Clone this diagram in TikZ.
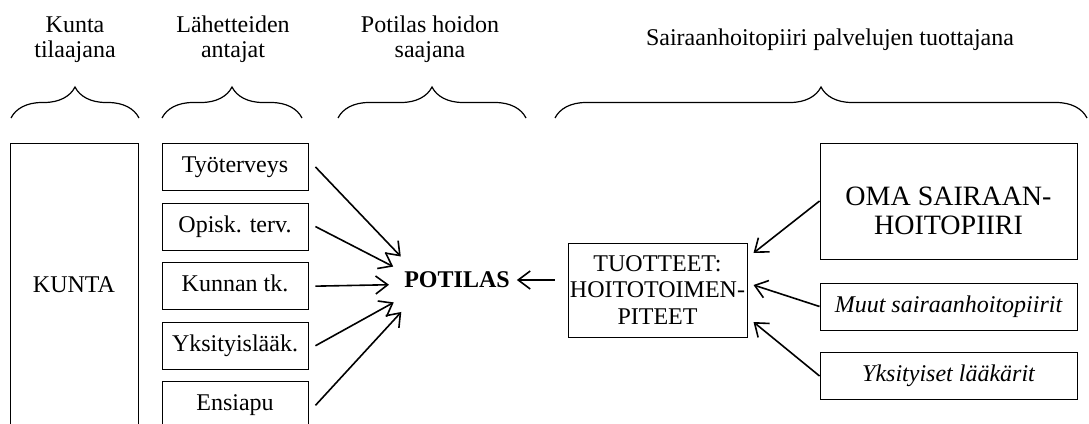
\documentclass[tikz,border=0pt]{standalone}
\usepackage{fontspec}
\setmainfont{Liberation Serif}
\usetikzlibrary{positioning,arrows.meta,decorations.pathreplacing}
\newcommand\perusfontti{\fontsize{24}{26.5}\selectfont}
\tikzstyle{laatikko}=[draw=black,line width=0.9pt,inner sep=2pt,align=center,font=\perusfontti]
\tikzstyle{rivi}=[minimum height=47pt,text height=16pt,text depth=5pt]
\tikzstyle{nuoli}=[line width=1.6pt,-{Straight Barb[length=12pt,width=18pt]}]
\tikzstyle{kaari}=[line width=1.2pt,decorate,decoration={brace,amplitude=31pt}]
\tikzstyle{otsikko}=[align=center,inner sep=0pt,font=\fontsize{24}{24.5}\selectfont]

\begin{document}
\begin{tikzpicture}[x=1pt,y=-1pt]
\useasboundingbox (0,0) rectangle (1089,423);
\clip (0,0) rectangle (1089,423);
% otsikot ja aaltosulut
\node[otsikko,anchor=base] (tilaaja) at (75,57) {Kunta\\tilaajana};
\node[otsikko,anchor=base] (antajat) at (233,57) {Lähetteiden\\antajat};
\node[otsikko,anchor=base] (saaja) at (430,57) {Potilas hoidon\\saajana};
\node[otsikko,anchor=base] (tuottaja) at (830,45.5) {Sairaanhoitopiiri palvelujen tuottajana};
\draw[kaari] (11,118) -- (139,118);
\draw[kaari] (162,118) -- (302,118);
\draw[kaari] (338,118) -- (526,118);
\draw[kaari] (555,118) -- (1087,118);
% kunta ja lahetteiden antajat
\node[laatikko,minimum width=128pt,minimum height=282pt,anchor=north] (kunta) at (74,143) {KUNTA};
\node[laatikko,rivi,minimum width=146pt,anchor=north] (tyo) at (235,143) {Työterveys};
\node[laatikko,rivi,minimum width=146pt,below=11.7pt of tyo] (opisk) {Opisk. terv.};
\node[laatikko,rivi,minimum width=146pt,below=11.7pt of opisk] (tk) {Kunnan tk.};
\node[laatikko,rivi,minimum width=146pt,below=11.7pt of tk] (yksl) {Yksityislääk.};
\node[laatikko,rivi,minimum width=146pt,below=11.7pt of yksl] (ensiapu) {Ensiapu};
% potilas
\node[font=\perusfontti\bfseries,inner xsep=7pt] (potilas) at (457,280) {POTILAS};
\coordinate (kohde) at ([xshift=-30pt,yshift=-4pt]potilas.center);
\draw[nuoli,shorten >=38pt] ([xshift=7pt]tyo.east) -- (kohde);
\draw[nuoli,shorten >=38pt] ([xshift=7pt]opisk.east) -- (kohde);
\draw[nuoli,shorten >=38pt] ([xshift=7pt]tk.east) -- (kohde);
\draw[nuoli,shorten >=38pt] ([xshift=7pt]yksl.east) -- (kohde);
\draw[nuoli,shorten >=38pt] ([xshift=7pt]ensiapu.east) -- (kohde);
% tuottajat
\node[laatikko,minimum width=177pt,minimum height=94pt] (tuotteet) at (657.5,290) {TUOTTEET:\\HOITOTOIMEN-\\PITEET};
\node[laatikko,minimum width=257pt,minimum height=116pt,text height=68pt,font=\fontsize{28}{29}\selectfont] (oma) at (948.5,201) {OMA SAIRAAN-\\HOITOPIIRI};
\node[laatikko,rivi,minimum width=257pt,font=\perusfontti\itshape] (muut) at (948.5,306.5) {Muut sairaanhoitopiirit};
\node[laatikko,rivi,minimum width=257pt,font=\perusfontti\itshape] (yksit) at (948.5,376) {Yksityiset lääkärit};
\draw[nuoli] ([xshift=-13pt,yshift=10pt]tuotteet.west) -- (potilas.east);
\draw[nuoli] (oma.west) -- ([xshift=6pt,yshift=37pt]tuotteet.east);
\draw[nuoli] (muut.west) -- ([xshift=6pt,yshift=5pt]tuotteet.east);
\draw[nuoli] (yksit.west) -- ([xshift=6pt,yshift=-32pt]tuotteet.east);
\end{tikzpicture}
\end{document}
